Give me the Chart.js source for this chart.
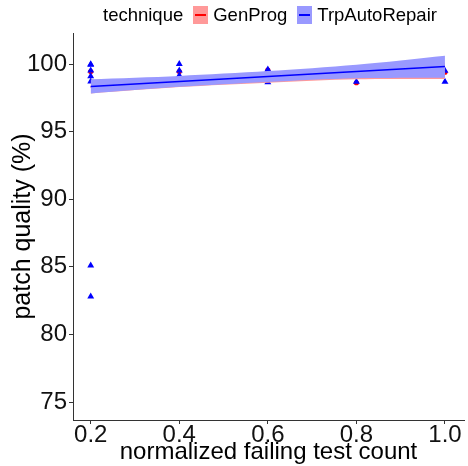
<!DOCTYPE html>
<html lang="en">
<head>
    <meta charset="UTF-8">
    <title>Patch quality</title>
    <script src="https://cdn.jsdelivr.net/npm/chart.js"></script>
    <style>
        body { margin: 0; background: #fff; font-family: "Liberation Sans", Arial, sans-serif; }
        #wrap { position: relative; width: 468px; height: 466px; }
        #legend { position: absolute; top: 4px; left: 103px; display: flex; align-items: center; font-size: 18.5px; color: #000; }
        .key { width: 15px; height: 18px; position: relative; margin: 0 5px 0 10px; }
        .key span { position: absolute; left: 2px; right: 2px; top: 8px; height: 1.5px; }
    </style>
</head>
<body>
    <div id="wrap">
        <canvas id="chart" width="468" height="466"></canvas>
        <div id="legend">
            <span>technique</span>
            <div class="key" style="background:#ff9999"><span style="background:#ff0000"></span></div>
            <span>GenProg</span>
            <div class="key" style="background:#9999ff"><span style="background:#0000ff"></span></div>
            <span>TrpAutoRepair</span>
        </div>
    </div>

    <script>
        const xTicks = [0.2, 0.4, 0.6, 0.8, 1.0];
        const yTicks = [75, 80, 85, 90, 95, 100];

        // raw points
        const genProgX = [0.2, 0.4, 0.6, 0.8, 1.0];
        const genProgY = [99.45, 99.45, 99.55, 98.62, 99.4];
        const trpX = [0.2, 0.2, 0.2, 0.2, 0.2, 0.2, 0.2, 0.4, 0.4, 0.4, 0.6, 0.6, 0.8, 1.0, 1.0];
        const trpY = [99.95, 99.52, 99.1, 98.72, 85.1, 82.8, 99.98, 100.0, 99.52, 99.15, 99.6, 98.65, 98.7, 99.5, 98.7];

        // smooth fits (lm) with confidence bands
        const fitX = [0.2, 0.4, 0.6, 0.8, 1.0];
        const trpFit = [98.35, 98.72, 99.08, 99.45, 99.82];
        const trpUpper = [98.87, 99.12, 99.48, 99.95, 100.62];
        const trpLower = [97.83, 98.32, 98.68, 98.95, 98.99];
        const genFit = [98.3, 98.6, 98.9, 99.2, 99.5];
        const genUpper = [98.8, 99.0, 99.3, 99.55, 100.1];
        const genLower = [97.83, 98.3, 98.62, 98.88, 98.9];

        const pts = (xs, ys) => xs.map((x, i) => ({ x: x, y: ys[i] }));
        const line = (ys, extra) => Object.assign({
            type: 'line', data: pts(fitX, ys), pointRadius: 0, borderWidth: 0, tension: 0.3
        }, extra);

        new Chart(document.getElementById('chart'), {
            type: 'scatter',
            data: {
                datasets: [
                    // points (behind bands)
                    { data: pts(genProgX, genProgY), pointStyle: 'circle', pointRadius: 2.6, backgroundColor: '#ff0000', borderWidth: 0, order: 9 },
                    { data: pts(trpX, trpY), pointStyle: 'triangle', pointRadius: 4, backgroundColor: '#0000ff', borderWidth: 0, order: 8 },
                    // GenProg band + line
                    line(genUpper, { fill: '+1', backgroundColor: '#ff9999', order: 7 }),
                    line(genLower, { order: 7 }),
                    line(genFit, { borderColor: '#ff0000', borderWidth: 1.5, order: 6 }),
                    // TrpAutoRepair band + line
                    line(trpUpper, { fill: '+1', backgroundColor: '#9999ff', order: 5 }),
                    line(trpLower, { order: 5 }),
                    line(trpFit, { borderColor: '#0000ff', borderWidth: 1.5, order: 4 })
                ]
            },
            options: {
                responsive: false,
                animation: false,
                events: [],
                layout: { padding: { top: 33, right: 2 } },
                plugins: { legend: { display: false }, tooltip: { enabled: false } },
                scales: {
                    x: {
                        type: 'linear',
                        min: 0.16, max: 1.043,
                        afterBuildTicks: s => { s.ticks = xTicks.map(v => ({ value: v })); },
                        afterFit: s => { s.height = 46; },
                        grid: { drawOnChartArea: false, tickLength: 4, color: '#333' },
                        border: { color: '#333' },
                        ticks: { color: '#111', font: { family: 'Liberation Sans', size: 24 }, padding: -3, maxRotation: 0,
                                 callback: v => v.toFixed(1) },
                        title: { display: true, text: 'normalized failing test count', color: '#000',
                                 font: { family: 'Liberation Sans', size: 24 }, padding: { top: -6, bottom: -1 } }
                    },
                    y: {
                        min: 73.67, max: 102.3,
                        afterBuildTicks: s => { s.ticks = yTicks.map(v => ({ value: v })); },
                        afterFit: s => { s.width = 73; },
                        grid: { drawOnChartArea: false, tickLength: 4, color: '#333' },
                        border: { color: '#333' },
                        ticks: { color: '#111', font: { family: 'Liberation Sans', size: 24 }, padding: 2 },
                        title: { display: true, text: 'patch quality (%)', color: '#000',
                                 font: { family: 'Liberation Sans', size: 25 }, padding: { top: 8, bottom: 0 } }
                    }
                }
            }
        });
    </script>
</body>
</html>
